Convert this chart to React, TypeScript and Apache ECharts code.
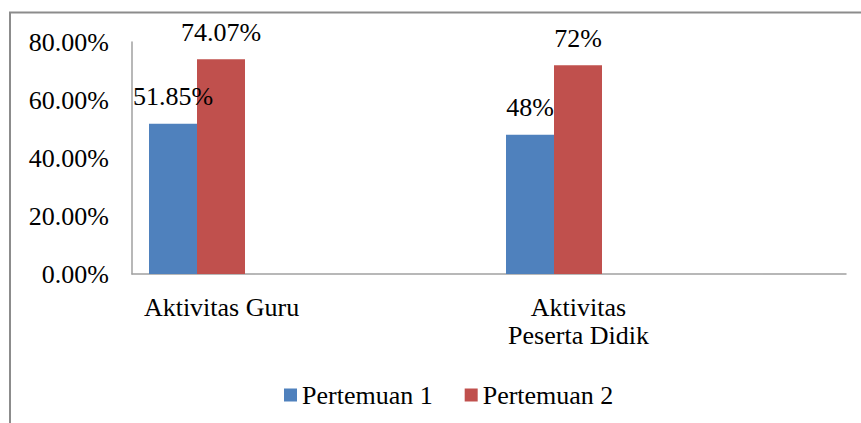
import React, { useEffect, useRef } from "react";
import * as echarts from "echarts";

const categories = ["Aktivitas Guru", "Aktivitas\nPeserta Didik"];
const pertemuan1 = [51.85, 48];
const pertemuan2 = [74.07, 72];
const seriesNames = ["Pertemuan 1", "Pertemuan 2"];
const yTicks = { min: 0, max: 80, interval: 20 };

const FONT = "Liberation Serif";

export default function App() {
  const ref = useRef<HTMLDivElement>(null);
  useEffect(() => {
    if (!ref.current) return;
    const chart = echarts.init(ref.current, null, { renderer: "svg" });
    const labelOpt = {
      show: true,
      position: "top",
      distance: 14,
      fontFamily: FONT,
      fontSize: 26,
      color: "#000",
      formatter: (p: any) => `${p.value}%`,
    };
    chart.setOption({
      animation: false,
      backgroundColor: "#fff",
      textStyle: { fontFamily: FONT },
      graphic: [
        {
          type: "rect",
          shape: { x: 10, y: 12.5, width: 900, height: 500 },
          style: { fill: "none", stroke: "#8c8c8c", lineWidth: 2 },
          silent: true,
        },
      ],
      legend: {
        data: seriesNames,
        left: 279,
        top: 377,
        itemWidth: 13,
        itemHeight: 13,
        itemGap: 32,
        icon: "rect",
        textStyle: { fontFamily: FONT, fontSize: 26, color: "#000" },
      },
      grid: { left: 132, right: 15, top: 42, bottom: 149, containLabel: false },
      xAxis: {
        type: "category",
        data: categories,
        boundaryGap: true,
        axisLine: { show: true, lineStyle: { color: "#a0a0a0", width: 1.5 } },
        axisTick: { show: false },
        axisLabel: {
          interval: 0,
          fontFamily: FONT,
          fontSize: 26,
          lineHeight: 28,
          color: "#000",
          margin: 19,
          padding: [0, 178, 0, 0],
        },
      },
      yAxis: {
        type: "value",
        min: yTicks.min,
        max: yTicks.max,
        interval: yTicks.interval,
        splitLine: { show: false },
        axisLine: { show: true, lineStyle: { color: "#a0a0a0", width: 1.5 } },
        axisTick: { show: false },
        axisLabel: {
          fontFamily: FONT,
          fontSize: 26,
          color: "#000",
          margin: 23,
          formatter: (v: number) => `${v.toFixed(2)}%`,
        },
      },
      series: [
        {
          name: seriesNames[0],
          type: "bar",
          data: pertemuan1,
          barWidth: 48,
          barGap: "0%",
          itemStyle: { color: "#4F81BD" },
          label: labelOpt,
        },
        {
          name: seriesNames[1],
          type: "bar",
          data: pertemuan2,
          barWidth: 48,
          barGap: "0%",
          itemStyle: { color: "#C0504D" },
          label: labelOpt,
        },
        {
          name: "_spacer",
          type: "bar",
          data: ["-", "-"],
          barWidth: 227,
          barGap: "0%",
          silent: true,
          itemStyle: { color: "transparent" },
        },
      ],
    });
    return () => chart.dispose();
  }, []);
  return (
    <div
      ref={ref}
      style={{ position: "absolute", left: 0, top: 0, width: 861, height: 423 }}
    />
  );
}
